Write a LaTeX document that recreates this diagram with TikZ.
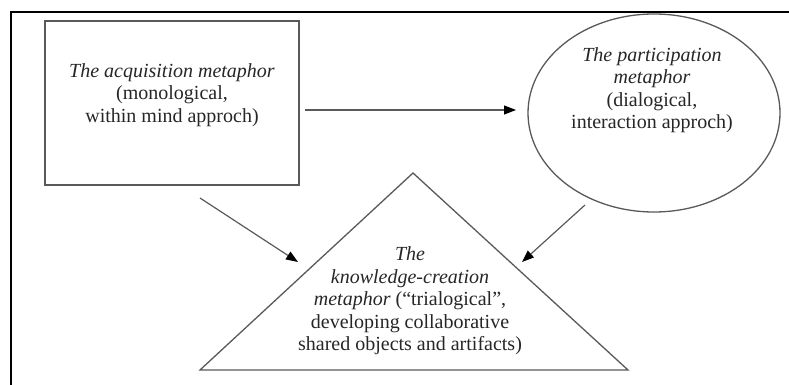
\documentclass[tikz,border=0pt]{standalone}
\usepackage{fontspec}
\setmainfont{Liberation Serif}
\usetikzlibrary{shapes.geometric,arrows.meta}
\begin{document}
\begin{tikzpicture}[x=1pt,y=-1pt,
  shapeline/.style={draw=black!65,line width=1.3pt},
  conn/.style={draw=black!65,line width=1.2pt,-{Triangle[length=12pt,width=9pt,color=black]}},
  lbl/.style={align=center,font=\fontsize{20}{22.5}\selectfont,inner sep=0pt,text=black!85}]
\useasboundingbox (0,0) rectangle (789,385);
% outer frame (only top and left edges visible)
\coordinate (ftl) at (11,12);
\coordinate (ftr) at (789,12);
\coordinate (fbl) at (11,385);
\draw[line width=1.3pt] (ftr) -- (ftl) -- (fbl);
% acquisition box
\node[shapeline,rectangle,minimum width=254pt,minimum height=164pt,inner sep=0pt] (acq) at (172,103) {};
\node[lbl] (acqtxt) at (172,95) {\textit{The acquisition metaphor}\\(monological,\\within mind approch)};
% participation ellipse
\node[shapeline,ellipse,minimum width=252pt,minimum height=198pt,inner sep=0pt] (par) at (654,113) {};
\node[lbl] (partxt) at (652,90) {\textit{The participation}\\\textit{metaphor}\\(dialogical,\\interaction approch)};
% knowledge-creation triangle
\coordinate (ta) at (413,173);
\coordinate (tl) at (200,370);
\coordinate (tr) at (628,370);
\draw[shapeline,line join=miter] (ta) -- (tl) -- (tr) -- cycle;
\node[lbl] (kctxt) at (410,301) {\textit{The}\\\textit{knowledge-creation}\\\textit{metaphor} (``trialogical'',\\developing collaborative\\shared objects and artifacts)};
% connectors
\coordinate (h1) at (305,110);
\coordinate (h2) at (516,110);
\coordinate (l1) at (200,198);
\coordinate (l2) at (298,262);
\coordinate (r1) at (585,205);
\coordinate (r2) at (522,262);
\draw[conn] (h1) -- (h2);
\draw[conn] (l1) -- (l2);
\draw[conn] (r1) -- (r2);
\end{tikzpicture}
\end{document}
